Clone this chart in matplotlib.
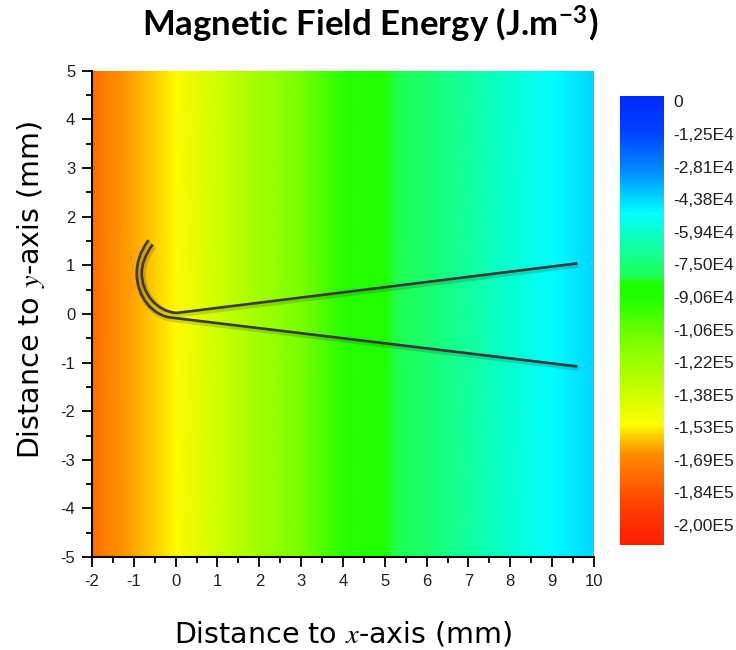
import numpy as np
import matplotlib
matplotlib.use('Agg')
import matplotlib.pyplot as plt
import matplotlib.patheffects as pe
from matplotlib.colors import LinearSegmentedColormap
from matplotlib.path import Path
from matplotlib.patches import PathPatch

plt.rcParams['mathtext.fontset'] = 'stix'
plt.rcParams['axes.unicode_minus'] = False

title = r'Magnetic Field Energy (J.m$^{\mathregular{-3}}$)'
xlabel = r'Distance to $x$-axis (mm)'
ylabel = r'Distance to $y$-axis (mm)'

# energy profile across x (field is uniform along y)
field_x = [-2, -1, 0, 1, 2, 3, 4, 5, 5.3, 6, 7, 8, 9, 10]
field_energy = [-1.70e5, -1.57e5, -1.47e5, -1.33e5, -1.20e5, -1.08e5, -9.2e4,
                -8.4e4, -8.1e4, -7.6e4, -6.8e4, -6.0e4, -5.2e4, -4.6e4]
field_y = [-5, 5]

# tweezer outline (mm): curve control points then arm end
outer_pts = [(-0.65, 1.52), (-0.85, 1.28), (-0.93, 1.06), (-0.93, 0.84),
             (-0.93, 0.35), (-0.55, -0.05), (-0.06, -0.08), (9.6, -1.08)]
inner_pts = [(-0.55, 1.43), (-0.72, 1.22), (-0.81, 1.04), (-0.81, 0.84),
             (-0.81, 0.42), (-0.45, 0.05), (0.02, 0.02), (9.6, 1.04)]

cbar_labels = ['-2,00E5', '-1,84E5', '-1,69E5', '-1,53E5', '-1,38E5', '-1,22E5',
               '-1,06E5', '-9,06E4', '-7,50E4', '-5,94E4', '-4,38E4', '-2,81E4',
               '-1,25E4', '0']

cmap = LinearSegmentedColormap.from_list('origin_rainbow', [
    (0.0, '#ff1e00'), (0.08, '#ff3c00'), (0.2, '#ff8c00'), (0.24, '#ffcc00'),
    (0.265, '#ffff00'), (0.34, '#c8ff00'), (0.45, '#80ff00'), (0.55, '#20ff00'),
    (0.585, '#20ff00'), (0.595, '#20ff50'), (0.74, '#00ffff'), (0.83, '#0090ff'),
    (0.92, '#0040ff'), (1.0, '#0028ff')])

fig = plt.figure(figsize=(7.36, 6.5), dpi=100)
ax = fig.add_axes([0.125, 0.143, 0.682, 0.748])

X, Y = np.meshgrid(field_x, field_y)
Z = np.tile(field_energy, (len(field_y), 1))
mesh = ax.pcolormesh(X, Y, Z, cmap=cmap, vmin=-2e5, vmax=0, shading='gouraud')

codes = [Path.MOVETO] + [Path.CURVE4] * 6 + [Path.LINETO]
line_fx = [pe.SimpleLineShadow(offset=(1, -1.2), shadow_color='black', alpha=0.15, linewidth=4),
           pe.Normal()]
for pts in (outer_pts, inner_pts):
    patch = PathPatch(Path(pts, codes), fill=False, edgecolor='#3a3a3a', lw=1.9,
                      capstyle='butt', path_effects=line_fx)
    ax.add_patch(patch)

ax.set_xlim(-2, 10)
ax.set_ylim(-5, 5)
ax.set_xticks(np.arange(-2, 11, 1))
ax.set_yticks(np.arange(-5, 6, 1))
ax.set_xticks(np.arange(-2, 10.1, 0.5), minor=True)
ax.set_yticks(np.arange(-5, 5.1, 0.5), minor=True)
ax.tick_params(which='major', direction='out', length=7, width=1.3, labelsize=12,
               labelcolor='#222222', pad=5)
ax.tick_params(which='minor', direction='out', length=4, width=1.3)
for lbl in ax.get_xticklabels() + ax.get_yticklabels():
    lbl.set_family('Liberation Sans')
ax.spines['top'].set_visible(False)
ax.spines['right'].set_visible(False)
ax.spines['left'].set_linewidth(1.5)
ax.spines['bottom'].set_linewidth(1.5)

ax.set_xlabel(xlabel, fontsize=20.5, labelpad=22)
ax.set_ylabel(ylabel, fontsize=20.5)
ax.yaxis.set_label_coords(-0.09, 0.55)

fig.text(0.503, 0.962, title, ha='center', va='center', fontsize=25,
         fontweight='bold', family='Lato')

cax = fig.add_axes([0.842, 0.1615, 0.060, 0.691])
cbar = fig.colorbar(mesh, cax=cax)
cbar.outline.set_visible(False)
cbar.set_ticks(np.linspace(-1.911e5, -2.5e3, len(cbar_labels)))
cbar.set_ticklabels(cbar_labels)
cax.tick_params(length=0, labelsize=12.5, pad=7, labelcolor='#222222')
for lbl in cax.get_yticklabels():
    lbl.set_family('Liberation Sans')

fig.savefig('out.png', dpi=100)
